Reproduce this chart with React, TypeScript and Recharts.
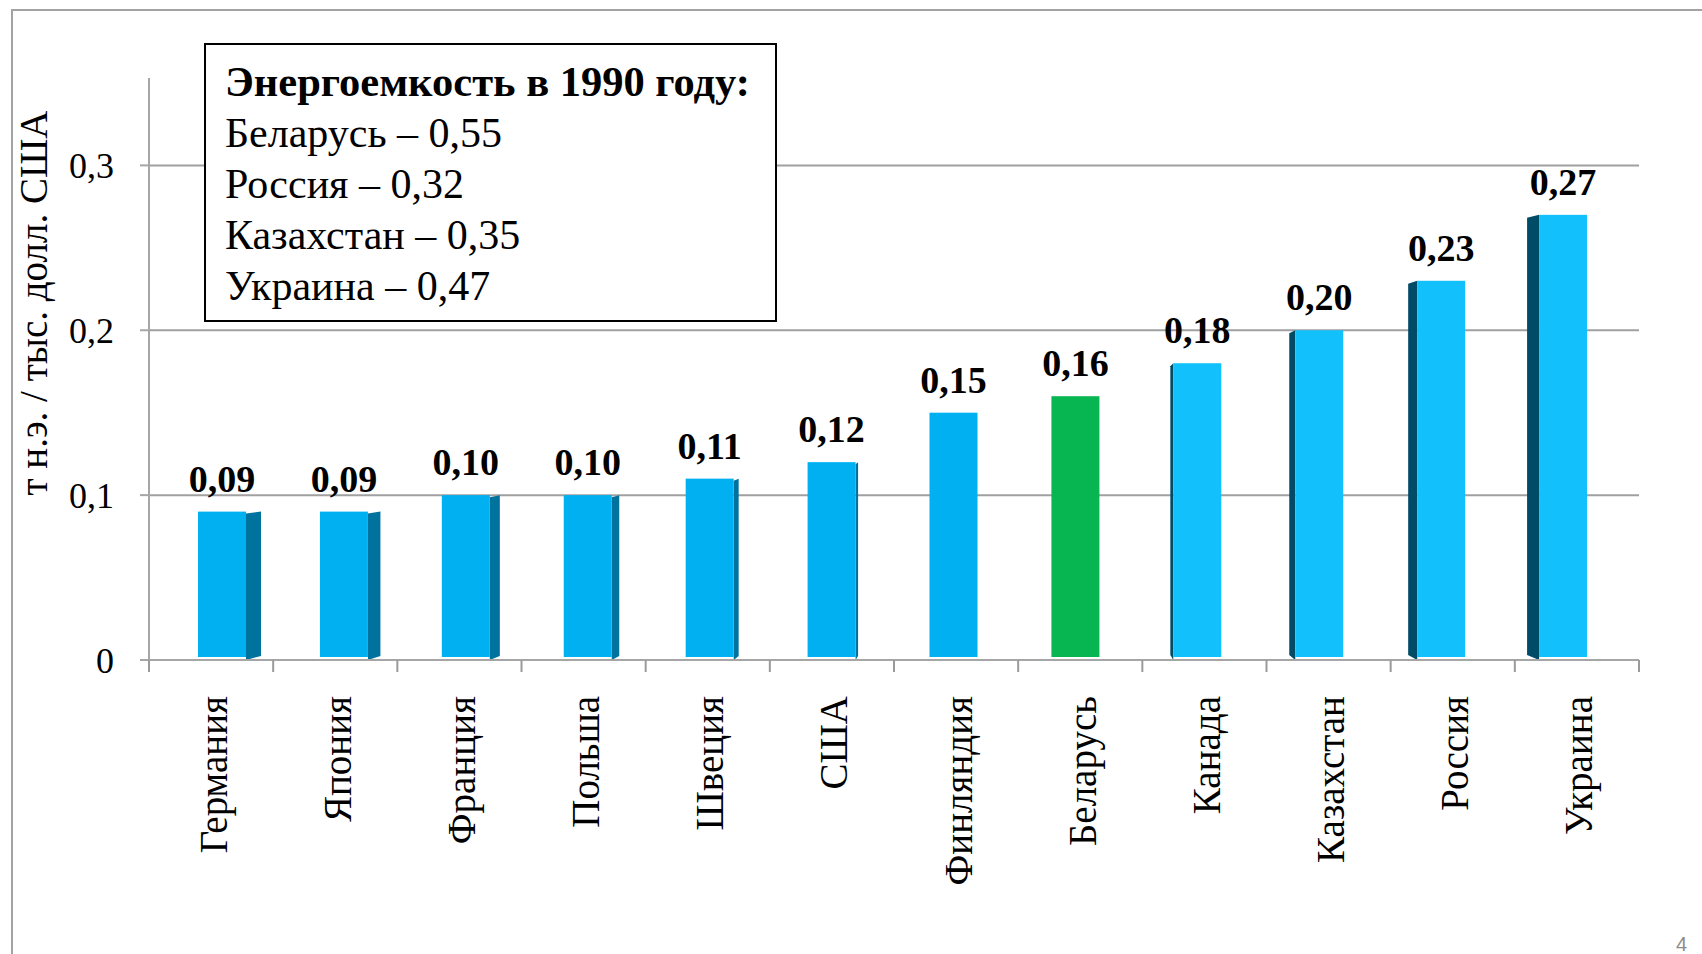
import React from 'react';
import { BarChart, Bar, XAxis, YAxis, CartesianGrid, LabelList } from 'recharts';

const countries = ['Германия', 'Япония', 'Франция', 'Польша', 'Швеция', 'США', 'Финляндия', 'Беларусь', 'Канада', 'Казахстан', 'Россия', 'Украина'];
const intensity = [0.09, 0.09, 0.1, 0.1, 0.11, 0.12, 0.15, 0.16, 0.18, 0.2, 0.23, 0.27];
const yTicks = [0, 0.1, 0.2, 0.3];
const noteTitle = 'Энергоемкость в 1990 году:';
const noteLines = ['Беларусь – 0,55', 'Россия – 0,32', 'Казахстан – 0,35', 'Украина – 0,47'];
const highlight = 'Беларусь';

const chartData = countries.map((name, i) => ({ name, value: intensity[i] }));

const FONT = "'Liberation Serif', 'Times New Roman', serif";
const W = 1702;
const H = 954;
const PLOT_LEFT = 149;
const PLOT_RIGHT = W - 63;
const SLOT = (PLOT_RIGHT - PLOT_LEFT) / countries.length;

const comma = (v: number, d: number) => v.toFixed(d).replace('.', ',');

// front face + dark side face, like the 3D columns of the original
const Column = (props: any) => {
  const { x, y, width, height, index, payload } = props;
  const green = payload.name === highlight;
  const leftHalf = index < 6;
  const rightHalf = index > 7;
  const front = green ? '#08B651' : rightHalf ? '#12C1FC' : '#00B0F0';
  let side = null;
  if (leftHalf) {
    const d = (6 - index) * 2.5;
    side = (
      <polygon
        points={`${x + width},${y + 2} ${x + width + d},${y} ${x + width + d},${y + height - 4} ${x + width},${y + height}`}
        fill="#00729E"
      />
    );
  } else if (rightHalf) {
    const d = (index - 7) * 3;
    side = (
      <polygon
        points={`${x - d},${y + 3} ${x},${y} ${x},${y + height} ${x - d},${y + height - 5}`}
        fill="#004B66"
      />
    );
  }
  return (
    <g>
      {side}
      <rect x={x} y={y} width={width} height={height - 3} fill={front} />
    </g>
  );
};

// category labels sit in the middle of each axis slot, ticks on the slot borders
const CountryTick = (props: any) => {
  const { y, payload, index, visibleTicksCount } = props;
  const bx = PLOT_LEFT + index * SLOT;
  const tx = bx + SLOT / 2 + 2;
  const ty = y + 36;
  return (
    <g>
      <line x1={bx} y1={y} x2={bx} y2={y + 12} stroke="#9a9a9a" strokeWidth={2} />
      {index === visibleTicksCount - 1 && (
        <line x1={bx + SLOT} y1={y} x2={bx + SLOT} y2={y + 12} stroke="#9a9a9a" strokeWidth={2} />
      )}
      <text
        x={tx}
        y={ty}
        transform={`rotate(-90 ${tx} ${ty})`}
        textAnchor="end"
        dominantBaseline="central"
        fontFamily={FONT}
        fontSize={39}
        fill="#000"
      >
        {payload.value}
      </text>
    </g>
  );
};

const App: React.FC = () => {
  return (
    <div style={{ position: 'absolute', left: 0, top: 0, width: W, height: H, overflow: 'hidden', background: '#fff' }}>
      <div
        style={{
          position: 'absolute',
          left: 11,
          top: 9,
          width: W,
          height: H,
          borderLeft: '2px solid #a3a3a3',
          borderTop: '2px solid #a3a3a3',
        }}
      />
      <BarChart
        width={W}
        height={H}
        data={chartData}
        margin={{ top: 78, right: 63, bottom: 14, left: 0 }}
        style={{ position: 'absolute', left: 0, top: 0 }}
      >
        <CartesianGrid horizontal vertical={false} horizontalValues={yTicks} stroke="#a0a0a0" strokeWidth={2} />
        <XAxis
          dataKey="name"
          height={280}
          padding={{ left: 12, right: 15 }}
          axisLine={{ stroke: '#a6a6a6', strokeWidth: 2 }}
          tickLine={false}
          tickSize={0}
          tickMargin={0}
          interval={0}
          tick={<CountryTick />}
        />
        <YAxis
          width={149}
          domain={[0, 0.353]}
          ticks={yTicks}
          axisLine={{ stroke: '#a6a6a6', strokeWidth: 2 }}
          tickLine={{ stroke: '#a6a6a6', strokeWidth: 2 }}
          tickSize={9}
          tickMargin={26}
          tickFormatter={(v: number) => (v === 0 ? '0' : comma(v, 1))}
          tick={{ fontFamily: FONT, fontSize: 36, fill: '#000' }}
          label={{
            content: () => (
              <text
                x={33}
                y={303}
                transform="rotate(-90 33 303)"
                textAnchor="middle"
                dominantBaseline="central"
                fontFamily={FONT}
                fontSize={39}
                fill="#000"
              >
                т н.э. / тыс. долл. США
              </text>
            ),
          }}
        />
        <Bar dataKey="value" barSize={48} shape={<Column />} isAnimationActive={false}>
          <LabelList
            dataKey="value"
            position="top"
            offset={20}
            formatter={(v: any) => comma(Number(v), 2)}
            style={{ fontFamily: FONT, fontSize: 38, fontWeight: 'bold', fill: '#000' }}
          />
        </Bar>
      </BarChart>
      <svg width={W} height={H} style={{ position: 'absolute', left: 0, top: 0, pointerEvents: 'none' }}>
        <rect x={205} y={44} width={571} height={277} fill="#fff" stroke="#000" strokeWidth={2} />
        <text x={225} y={96} fontFamily={FONT} fontSize={42.5} fontWeight="bold" fill="#000">
          {noteTitle}
        </text>
        {noteLines.map((t, i) => (
          <text key={t} x={225} y={147 + i * 51} fontFamily={FONT} fontSize={42} fill="#000">
            {t}
          </text>
        ))}
        <text x={1676} y={951} fontFamily="'Liberation Sans', Arial, sans-serif" fontSize={20} fill="#8c8c8c">
          4
        </text>
      </svg>
    </div>
  );
};

export default App;
